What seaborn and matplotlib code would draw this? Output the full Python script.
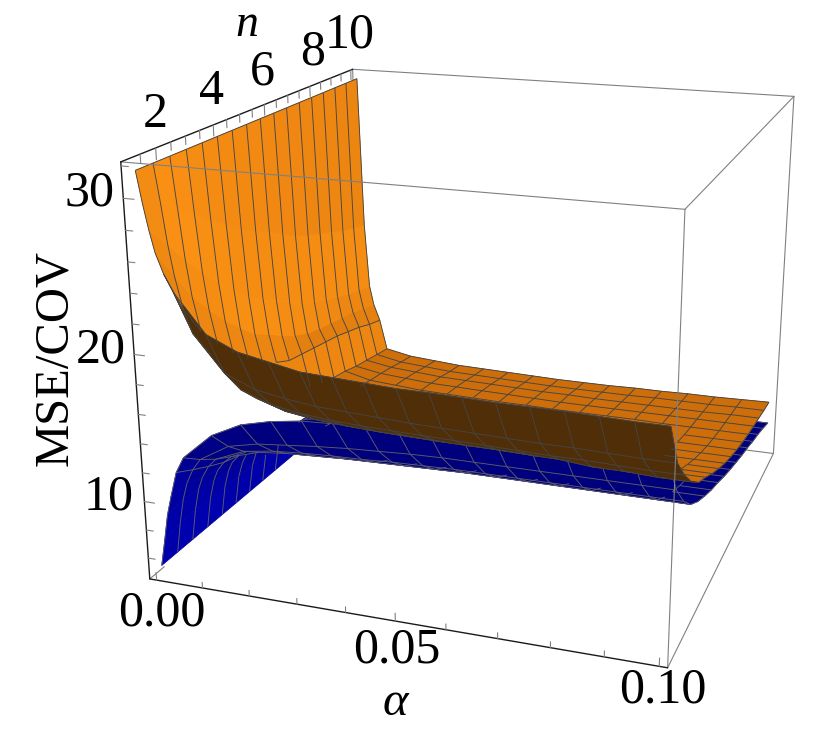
import numpy as np
import matplotlib
matplotlib.use("Agg")
import matplotlib.pyplot as plt
import seaborn as sns
from mpl_toolkits.mplot3d import proj3d
from mpl_toolkits.mplot3d.art3d import Line3DCollection

sns.set_theme(style="white")
plt.rcParams["font.family"] = ["Liberation Serif", "DejaVu Serif"]

alpha_values = [0, 0.001, 0.002, 0.003, 0.0045, 0.00625, 0.0125, 0.01875, 0.025, 0.03125, 0.0375,
                0.04375, 0.05, 0.05625, 0.0625, 0.06875, 0.075, 0.08125, 0.0875, 0.09375, 0.1]
n_values = [1.1, 1.66, 2.21, 2.77, 3.33, 3.88, 4.44, 5.0, 5.55, 6.11, 6.66, 7.22, 7.78, 8.33, 8.89, 9.44, 10.0]

# one row per n, one column per alpha
orange_z = [
    [31.6, 29.6, 27.9, 26.5, 25.2, 24.1, 21.6, 20.7, 20.3, 19.9, 19.8, 19.7, 19.6, 19.6, 19.55, 19.5, 19.5, 19.5, 19.45, 19.4, 19.4],
    [31.6, 29.2, 26.5, 24.5, 22.3, 20.75, 18.35, 17.5, 17.15, 16.9, 16.8, 16.7, 16.6, 16.55, 16.5, 16.45, 16.4, 16.4, 16.35, 16.3, 16.3],
    [31.6, 28.2, 24.9, 22.5, 20.2, 18.7, 16.5, 15.75, 15.4, 15.2, 15.1, 15.05, 15.0, 14.95, 14.9, 14.85, 14.8, 14.8, 14.75, 14.7, 14.7],
    [31.6, 27.3, 23.5, 21.0, 18.65, 17.15, 15.15, 14.5, 14.2, 14.05, 13.95, 13.9, 13.85, 13.8, 13.8, 13.75, 13.7, 13.5, 13.5, 13.4, 13.4],
    [31.6, 26.4, 22.15, 19.55, 17.3, 15.9, 14.05, 13.5, 13.25, 13.1, 13.0, 12.95, 12.9, 12.9, 12.85, 12.8, 12.8, 12.6, 12.55, 12.5, 12.5],
    [31.6, 25.6, 21.1, 18.4, 16.25, 14.4, 13.0, 12.7, 12.5, 12.35, 12.3, 12.2, 12.2, 12.15, 12.15, 12.1, 12.1, 12.05, 12.05, 12.0, 12.0],
    [31.6, 24.7, 19.9, 17.3, 15.25, 13.2, 12.2, 12.0, 11.8, 11.7, 11.65, 11.6, 11.55, 11.55, 11.5, 11.5, 11.45, 11.45, 11.45, 11.4, 11.4],
    [31.6, 24.1, 19.2, 16.6, 14.55, 12.3, 11.6, 11.5, 11.3, 11.2, 11.15, 11.1, 11.05, 11.0, 11.0, 10.95, 10.95, 10.95, 10.9, 10.9, 10.9],
    [31.6, 23.5, 18.45, 15.85, 14.0, 11.8, 11.15, 11.0, 10.8, 10.7, 10.65, 10.6, 10.6, 10.55, 10.55, 10.5, 10.5, 10.5, 10.45, 10.45, 10.45],
    [31.6, 22.8, 17.7, 15.2, 13.8, 11.3, 10.75, 10.6, 10.4, 10.35, 10.3, 10.25, 10.2, 10.2, 10.15, 10.15, 10.15, 10.1, 10.1, 10.1, 10.1],
    [31.6, 22.1, 16.95, 14.7, 13.6, 10.9, 10.4, 10.25, 10.1, 10.0, 10.0, 9.95, 9.9, 9.9, 9.9, 9.85, 9.85, 9.85, 9.8, 9.8, 9.8],
    [31.6, 21.65, 16.5, 14.4, 13.4, 10.6, 10.15, 10.0, 9.85, 9.75, 9.7, 9.7, 9.65, 9.65, 9.6, 9.6, 9.6, 9.6, 9.55, 9.55, 9.55],
    [31.6, 21.25, 16.05, 14.2, 13.2, 10.4, 9.9, 9.75, 9.6, 9.55, 9.5, 9.45, 9.45, 9.4, 9.4, 9.4, 9.4, 9.35, 9.35, 9.35, 9.35],
    [31.6, 20.8, 15.7, 14.0, 12.9, 10.1, 9.75, 9.6, 9.45, 9.4, 9.35, 9.3, 9.25, 9.2, 9.2, 9.2, 9.2, 9.2, 9.2, 9.2, 9.2],
    [31.6, 20.4, 15.3, 13.8, 12.6, 9.9, 9.55, 9.4, 9.25, 9.2, 9.15, 9.1, 9.05, 9.05, 9.0, 9.0, 9.0, 9.0, 9.0, 9.05, 9.05],
    [31.6, 20.1, 15.0, 13.5, 12.2, 9.7, 9.3, 9.15, 9.0, 8.95, 8.9, 8.85, 8.8, 8.8, 8.8, 8.8, 8.85, 8.85, 8.85, 8.9, 8.9],
    [31.6, 19.8, 14.75, 13.2, 11.9, 9.5, 9.1, 8.95, 8.8, 8.75, 8.7, 8.65, 8.6, 8.6, 8.6, 8.65, 8.65, 8.7, 8.7, 8.75, 8.8],
]
blue_z = [
    [5.2, 7.0, 8.9, 10.2, 12.0, 13.1, 14.9, 15.9, 16.4, 16.7, 16.8, 16.9, 17.0, 17.0, 17.0, 17.0, 17.0, 17.0, 17.0, 17.0, 17.0],
    [5.2, 7.4, 9.15, 10.3, 11.35, 12.15, 13.35, 13.8, 14.0, 14.2, 14.35, 14.45, 14.55, 14.6, 14.6, 14.6, 14.6, 14.6, 14.6, 14.6, 14.6],
    [5.2, 7.45, 9.0, 9.9, 10.75, 11.35, 12.2, 12.5, 12.65, 12.75, 12.8, 12.9, 12.95, 13.0, 13.0, 13.0, 13.0, 13.0, 13.0, 13.0, 13.0],
    [5.2, 7.4, 8.75, 9.55, 10.2, 10.7, 11.3, 11.5, 11.6, 11.7, 11.75, 11.8, 11.85, 11.9, 11.9, 11.9, 11.9, 11.9, 11.9, 11.9, 11.9],
    [5.2, 7.4, 8.6, 9.3, 9.85, 10.2, 10.7, 10.85, 10.95, 11.0, 11.05, 11.1, 11.15, 11.2, 11.2, 11.2, 11.2, 11.2, 11.2, 11.2, 11.2],
    [5.2, 7.3, 8.4, 9.05, 9.55, 9.85, 10.3, 10.45, 10.5, 10.55, 10.6, 10.6, 10.65, 10.7, 10.7, 10.7, 10.7, 10.7, 10.7, 10.7, 10.7],
    [5.2, 7.3, 8.3, 8.85, 9.3, 9.55, 9.9, 10.0, 10.05, 10.1, 10.15, 10.15, 10.2, 10.25, 10.25, 10.25, 10.25, 10.25, 10.25, 10.25, 10.25],
    [5.2, 7.3, 8.2, 8.7, 9.1, 9.3, 9.6, 9.7, 9.75, 9.8, 9.8, 9.85, 9.85, 9.9, 9.9, 9.9, 9.9, 9.9, 9.9, 9.9, 9.9],
    [5.2, 7.25, 8.1, 8.5, 8.85, 9.0, 9.25, 9.3, 9.35, 9.4, 9.4, 9.45, 9.45, 9.5, 9.5, 9.5, 9.5, 9.5, 9.5, 9.5, 9.5],
    [5.2, 7.2, 8.0, 8.35, 8.65, 8.75, 8.95, 9.0, 9.05, 9.05, 9.1, 9.1, 9.15, 9.15, 9.15, 9.15, 9.15, 9.15, 9.15, 9.15, 9.15],
    [5.2, 7.15, 7.85, 8.2, 8.45, 8.55, 8.7, 8.75, 8.75, 8.8, 8.8, 8.8, 8.85, 8.85, 8.85, 8.85, 8.85, 8.85, 8.85, 8.85, 8.85],
    [5.2, 7.1, 7.75, 8.05, 8.25, 8.35, 8.45, 8.5, 8.5, 8.5, 8.55, 8.55, 8.55, 8.55, 8.55, 8.55, 8.55, 8.55, 8.55, 8.55, 8.55],
    [5.2, 7.05, 7.65, 7.9, 8.05, 8.15, 8.2, 8.25, 8.25, 8.25, 8.3, 8.3, 8.3, 8.3, 8.3, 8.3, 8.3, 8.3, 8.3, 8.3, 8.3],
    [5.2, 7.0, 7.5, 7.7, 7.85, 7.9, 7.95, 8.0, 8.0, 8.0, 8.0, 8.0, 8.0, 8.0, 8.0, 8.0, 8.0, 8.0, 8.0, 8.0, 8.0],
    [5.2, 6.95, 7.4, 7.55, 7.65, 7.7, 7.7, 7.75, 7.75, 7.75, 7.75, 7.75, 7.75, 7.75, 7.75, 7.75, 7.75, 7.75, 7.75, 7.75, 7.75],
    [5.2, 6.85, 7.2, 7.3, 7.35, 7.4, 7.4, 7.45, 7.45, 7.45, 7.45, 7.45, 7.45, 7.45, 7.45, 7.45, 7.45, 7.45, 7.45, 7.45, 7.45],
    [5.2, 6.7, 6.95, 7.0, 7.05, 7.05, 7.1, 7.1, 7.1, 7.1, 7.1, 7.1, 7.1, 7.1, 7.1, 7.1, 7.1, 7.1, 7.1, 7.1, 7.1],
]

alpha_ticks = [0, 0.01, 0.02, 0.03, 0.04, 0.05, 0.06, 0.07, 0.08, 0.09, 0.1]
n_ticks = [1.5, 2, 2.5, 3, 3.5, 4, 4.5, 5, 5.5, 6, 6.5, 7, 7.5, 8, 8.5, 9, 9.5, 10]
z_ticks = [6, 8, 10, 12, 14, 16, 18, 20, 22, 24, 26, 28, 30, 32]

# box limits and camera
xlo, xhi = -0.0015, 0.1015
ylo, yhi = 0.9, 10.1
zlo, zhi = 4.5, 32.25
ELEV, AZIM, FOCAL = 18.32, -70.66, 0.3931
BOX = (1, 1.0007, 0.8031)

fig = plt.figure(figsize=(8.3, 7.29), dpi=100)
ax = fig.add_axes([0.09509, -0.00758, 0.9590, 1.0918], projection="3d", computed_zorder=False)
ax.set_xlim(xlo, xhi, view_margin=0)
ax.set_ylim(ylo, yhi, view_margin=0)
ax.set_zlim(zlo, zhi, view_margin=0)
ax.view_init(ELEV, AZIM)
ax.set_proj_type("persp", focal_length=FOCAL)
ax.set_box_aspect(BOX)
ax.set_axis_off()

e, a = np.radians(ELEV), np.radians(AZIM)
view = np.array([np.cos(e) * np.cos(a), np.cos(e) * np.sin(a), np.sin(e)])
span = np.array([xhi - xlo, yhi - ylo, zhi - zlo])
box = np.array(BOX)


def facet_colors(P, pal, under, rising):
    Q = (P - [xlo, ylo, zlo]) / span * box  # box units, for the shading only
    cols = np.zeros((P.shape[0] - 1, P.shape[1] - 1, 3))
    for i in range(cols.shape[0]):
        for j in range(cols.shape[1]):
            nrm = np.cross(Q[i, j + 1] - Q[i + 1, j], Q[i + 1, j + 1] - Q[i, j])
            if nrm[2] < 0:
                nrm = -nrm
            slope = -nrm[0] / nrm[2]  # dz/dalpha
            if rising:
                t = np.clip(np.log10(1 + max(slope, 0)) / 1.5, 0, 1)
            else:
                t = np.clip(np.log10(1 + max(-slope, 0)) / 2, 0, 1)
            cols[i, j] = pal[int(t * (len(pal) - 1))]
            if not rising and nrm @ view < 0:
                cols[i, j] = under
    return cols


def visible_mesh(P, mesh_cols):
    # keep the mesh segments whose middle is not behind another facet of the surface
    M = ax.get_proj()
    sx, sy, sz = proj3d.proj_transform(P[..., 0].ravel(), P[..., 1].ravel(), P[..., 2].ravel(), M)
    S = np.dstack([np.reshape(sx, P.shape[:2]), np.reshape(sy, P.shape[:2]), np.reshape(sz, P.shape[:2])])
    ii, jj = np.meshgrid(range(P.shape[0] - 1), range(P.shape[1] - 1), indexing="ij")
    ii, jj = ii.ravel(), jj.ravel()
    quad = np.stack([S[ii, jj], S[ii, jj + 1], S[ii + 1, jj + 1], S[ii + 1, jj]], axis=1)
    depth = quad[:, :, 2].mean(axis=1)
    pairs = [((i, j), (i, j + 1)) for i in range(P.shape[0]) for j in range(P.shape[1] - 1)]
    pairs += [((i, j), (i + 1, j)) for j in mesh_cols for i in range(P.shape[0] - 1)]
    segs = []
    for p0, p1 in pairs:
        m = (S[p0] + S[p1]) / 2
        near = (np.abs(ii - p0[0]) <= 1) & (np.abs(jj - p0[1]) <= 1)
        ex = np.roll(quad[:, :, :2], -1, axis=1) - quad[:, :, :2]
        d = m[:2] - quad[:, :, :2]
        cr = ex[:, :, 0] * d[:, :, 1] - ex[:, :, 1] * d[:, :, 0]
        inside = (cr > 0).all(axis=1) | (cr < 0).all(axis=1)
        if not (inside & ~near & (depth < m[2])).any():
            segs.append([P[p0], P[p1]])
    return segs


def add_surface(z_rows, pal, under, line_col, zorder, rising, mesh_cols):
    X, Y = np.meshgrid(alpha_values, n_values)
    P = np.dstack([X, Y, np.array(z_rows)])
    cols = facet_colors(P, pal, under, rising)
    ax.plot_surface(X, Y, P[..., 2], facecolors=cols, rstride=1, cstride=1, shade=False,
                    linewidth=0.5, antialiased=True, zorder=zorder)
    ax.add_collection3d(Line3DCollection(visible_mesh(P, mesh_cols), colors=[line_col],
                                         linewidths=0.65, zorder=zorder + 0.5))


def box_line(p0, p1, col, lw, zorder):
    ax.plot3D(*zip(p0, p1), color=col, lw=lw, zorder=zorder, solid_capstyle="round")


GREY = (0.5, 0.5, 0.5)
DARK = (0.1, 0.1, 0.1)

# hidden edges behind the surfaces
box_line((xlo, yhi, zhi), (xlo, yhi, zlo), GREY, 0.8, 1)
box_line((xlo, ylo, zlo), (xlo, 1.4, zlo), GREY, 0.8, 1)  # rest of this edge sits under the blue sheet
box_line((xlo, yhi, zlo), (xhi, yhi, zlo), GREY, 0.8, 1)
box_line((xhi, yhi, zlo), (xhi, yhi, zhi), GREY, 0.8, 1)
box_line((xhi, ylo, zlo), (xhi, yhi, zlo), GREY, 0.8, 1)
box_line((xlo, yhi, zhi), (xhi, yhi, zhi), GREY, 0.8, 1)
box_line((xhi, ylo, zhi), (xhi, yhi, zhi), GREY, 0.8, 1)

add_surface(blue_z, sns.blend_palette(["#00007c", "#0000d2"], 32), (0, 0, 0.45), (0.36, 0.36, 0.42), 2, True,
            [4] + list(range(5, 21)))
add_surface(orange_z, sns.blend_palette(["#cd6e0a", "#fa9114", "#e17a0f"], 48), (0.31, 0.18, 0.03), (0.27, 0.27, 0.27), 3, False,
            [0, 4] + list(range(5, 21)))

# front edges over the surfaces
box_line((xlo, ylo, zhi), (xhi, ylo, zhi), GREY, 0.8, 5)
box_line((xhi, ylo, zhi), (xhi, ylo, zlo), GREY, 0.8, 5)
box_line((xlo, ylo, zlo), (xhi, ylo, zlo), DARK, 1.0, 5)
box_line((xlo, ylo, zlo), (xlo, ylo, zhi), DARK, 1.0, 5)
box_line((xlo, ylo, zhi), (xlo, yhi, zhi), DARK, 1.0, 5)

for t in alpha_ticks:
    box_line((t, ylo, zlo), (t, ylo, zlo + (0.55 if t in (0, 0.05, 0.1) else 0.4)), GREY, 0.8, 5)
for t in n_ticks:
    box_line((xlo, t, zhi), (xlo, t, zhi - (0.75 if t % 2 == 0 else 0.55)), GREY, 0.8, 5)
for t in z_ticks:
    box_line((xlo, ylo, t), (xlo + (0.0022 if t % 10 == 0 else 0.0015), ylo, t), GREY, 0.8, 5)


def label(x, y, s, **kw):
    fig.text(x / 830, 1 - y / 729, s, ha="center", va="center", color="black", **kw)


for x, y, s in [(155, 115, "2"), (211, 92, "4"), (262, 72, "6"), (313, 52, "8"), (350, 35, "10"),
                (89, 193, "30"), (101, 350, "20"), (109, 497, "10"),
                (162, 613, "0.00"), (397, 650, "0.05"), (663, 690, "0.10")]:
    label(x, y, s, fontsize=36)
label(247, 25, "n", fontsize=33, style="italic")
label(395, 703, "\u03b1", fontsize=35, style="italic")
label(55, 358, "MSE/COV", fontsize=35, rotation=90)

fig.savefig("out.png", dpi=100)
